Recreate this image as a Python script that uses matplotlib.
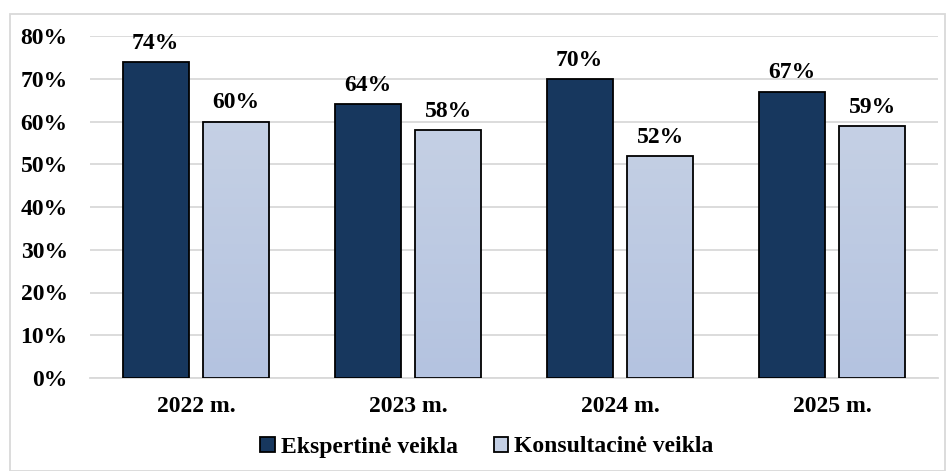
import numpy as np
import matplotlib.pyplot as plt
from matplotlib.patches import Rectangle, Patch
from matplotlib.colors import LinearSegmentedColormap

years = ["2022 m.", "2023 m.", "2024 m.", "2025 m."]
ekspertine = [74, 64, 70, 67]
konsultacine = [60, 58, 52, 59]
series_names = ["Ekspertinė veikla", "Konsultacinė veikla"]

plt.rcParams['font.family'] = ['Liberation Serif', 'DejaVu Serif']
plt.rcParams['font.weight'] = 'bold'

W, H = 946, 471
fig = plt.figure(figsize=(W / 100, H / 100), dpi=100)
ax = fig.add_axes([90 / W, 1 - 378 / H, (938 - 90) / W, (378 - 36) / H])

x = np.arange(len(years))
bw = 0.31
off = 0.19
fs = 17

dark = ax.bar(x - off, ekspertine, bw, color='#17375e', edgecolor='black', linewidth=1.3, zorder=3)
light = ax.bar(x + off, konsultacine, bw, color='none', edgecolor='black', linewidth=1.3, zorder=4)

# gradient fill for the light bars
grad = np.linspace(0, 1, 256).reshape(-1, 1)
cmap = LinearSegmentedColormap.from_list('lb', ['#b4c3e0', '#cbd5e6'])
for r in light:
    x0, y0, w, h = r.get_x(), r.get_y(), r.get_width(), r.get_height()
    im = ax.imshow(grad, cmap=cmap, extent=[x0, x0 + w, 0, 80], origin='lower',
                   aspect='auto', zorder=3)
    im.set_clip_path(Rectangle((x0, y0), w, h, transform=ax.transData))

for xi, v in zip(x, ekspertine):
    ax.text(xi - off, v + 1.9, f"{v}%", ha='center', va='bottom', fontsize=fs, fontweight='bold')
for xi, v in zip(x, konsultacine):
    ax.text(xi + off, v + 1.9, f"{v}%", ha='center', va='bottom', fontsize=fs, fontweight='bold')

ax.set_xlim(-0.5, len(years) - 0.5)
ax.set_ylim(0, 80)
ax.set_yticks(range(0, 81, 10))
ax.set_yticklabels([f"{t}%" for t in range(0, 81, 10)], fontsize=fs, fontweight='bold')
ax.set_xticks(x)
ax.set_xticklabels(years, fontsize=fs, fontweight='bold')
ax.tick_params(axis='both', length=0)
ax.tick_params(axis='y', pad=16)
ax.tick_params(axis='x', pad=13)
ax.grid(axis='y', color='#d9d9d9', linewidth=1.3, zorder=0)
for s in ['top', 'right', 'left']:
    ax.spines[s].set_visible(False)
ax.spines['bottom'].set_color('#d9d9d9')
ax.spines['bottom'].set_linewidth(1.3)

handles = [Patch(facecolor='#17375e', edgecolor='black', linewidth=1.3),
           Patch(facecolor='#c3cfe4', edgecolor='black', linewidth=1.3)]
fig.legend(handles, series_names, loc='center', bbox_to_anchor=(487 / W, 1 - 447 / H),
           ncol=2, frameon=False, prop={'size': fs, 'weight': 'bold'},
           handlelength=0.6, handleheight=0.6, handletextpad=0.25, columnspacing=1.55)

fig.patches.append(Rectangle((10 / W, 0), (W - 11) / W, 1 - 14 / H, transform=fig.transFigure,
                             fill=False, edgecolor='#d9d9d9', linewidth=1.3))

fig.savefig('out.png', dpi=100)
